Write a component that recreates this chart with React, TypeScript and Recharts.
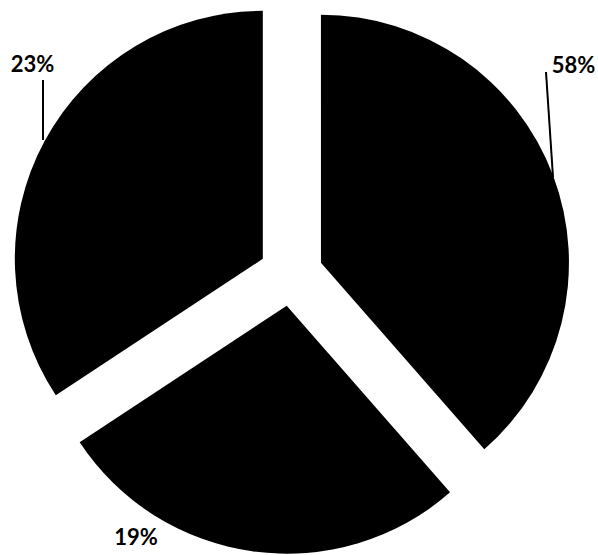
import { Pie, PieChart } from 'recharts';

// slice sizes as drawn (degrees of arc), clockwise from 12 o'clock
const sliceNames = ['A', 'B', 'C'];
const sliceShare = [138.8, 97.8, 123.4];
const sliceLabels = ['58%', '19%', '23%'];

const WIDTH = 598;
const HEIGHT = 555;
const CX = 291;
const CY = 274;
const RADIUS = 248;
const EXPLODE = 32;
const RADIAN = Math.PI / 180;

// label text centre and optional leader line, relative to the pie centre
const labelLayout = [
  { tx: 282.5, ty: -210, line: [255, -202, 262, -97] },
  { tx: -155, ty: 262, line: null },
  { tx: -258.5, ty: -211, line: [-248, -194, -248, -134] },
];

const total = sliceShare.reduce((a, b) => a + b, 0);

function midAngleOf(i: number) {
  const before = sliceShare.slice(0, i).reduce((a, b) => a + b, 0);
  const start = 90 - (before / total) * 360;
  const span = (sliceShare[i] / total) * 360;
  return start - span / 2;
}

export default function App() {
  const data = sliceNames.map((name, i) => ({
    name,
    value: sliceShare[i],
    label: sliceLabels[i],
  }));

  return (
    <div
      style={{
        position: 'fixed',
        top: 0,
        left: 0,
        width: WIDTH,
        height: HEIGHT,
        background: '#fff',
      }}
    >
      <PieChart
        width={WIDTH}
        height={HEIGHT}
        margin={{ top: 0, right: 0, bottom: 0, left: 0 }}
      >
        {data.map((_, i) => {
          const mid = midAngleOf(i);
          const cx = CX + EXPLODE * Math.cos(mid * RADIAN);
          const cy = CY - EXPLODE * Math.sin(mid * RADIAN);
          const seriesData = data.map((d, j) => ({
            ...d,
            fill: j === i ? '#000' : 'none',
          }));
          return (
            <Pie
              key={i}
              data={seriesData}
              dataKey="value"
              nameKey="name"
              cx={cx}
              cy={cy}
              outerRadius={RADIUS}
              startAngle={90}
              endAngle={-270}
              stroke="none"
              isAnimationActive={false}
              labelLine={false}
              label={(props: any) => {
                if (props.index !== i) return null;
                const l = labelLayout[i];
                return (
                  <g>
                    {l.line && (
                      <line
                        x1={CX + l.line[0]}
                        y1={CY + l.line[1]}
                        x2={CX + l.line[2]}
                        y2={CY + l.line[3]}
                        stroke="#000"
                        strokeWidth={2}
                      />
                    )}
                    <text
                      x={CX + l.tx}
                      y={CY + l.ty}
                      textAnchor="middle"
                      dominantBaseline="central"
                      fill="#000"
                      fontFamily="Lato, 'Noto Sans', sans-serif"
                      fontWeight="bold"
                      fontSize={22}
                    >
                      {sliceLabels[i]}
                    </text>
                  </g>
                );
              }}
            />
          );
        })}
      </PieChart>
    </div>
  );
}
